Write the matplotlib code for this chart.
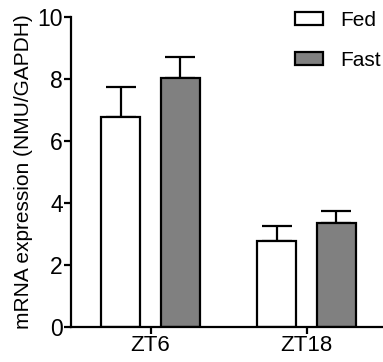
import matplotlib.pyplot as plt
import numpy as np

plt.rcParams['font.family'] = ['Liberation Sans', 'DejaVu Sans']

# values
groups = ['ZT6', 'ZT18']
fed_mean = [6.78, 2.76]
fed_err = [0.97, 0.50]
fast_mean = [8.02, 3.37]
fast_err = [0.70, 0.38]
y_ticks = [0, 2, 4, 6, 8, 10]

fig = plt.figure(figsize=(3.83, 3.62), dpi=100)
ax = fig.add_axes([71 / 383, 35 / 362, 312 / 383, 310 / 362])

x = np.arange(len(groups))
w = 0.25
off = 0.19
lw = 1.6

ax.bar(x - off, fed_mean, w, color='white', edgecolor='black', linewidth=lw,
       label='Fed', zorder=2)
ax.bar(x + off, fast_mean, w, color='#808080', edgecolor='black', linewidth=lw,
       label='Fast', zorder=2)
ax.errorbar(x - off, fed_mean, yerr=[np.zeros(2), fed_err], fmt='none',
            ecolor='black', elinewidth=lw, capsize=11, capthick=lw, zorder=1)
ax.errorbar(x + off, fast_mean, yerr=[np.zeros(2), fast_err], fmt='none',
            ecolor='black', elinewidth=lw, capsize=11, capthick=lw, zorder=1)

ax.set_xlim(-0.51, 1.49)
ax.set_ylim(0, 10)
ax.set_yticks(y_ticks)
ax.set_xticks(x)
ax.set_xticklabels(groups)
ax.set_ylabel('mRNA expression (NMU/GAPDH)', fontsize=15, labelpad=3)
ax.tick_params(axis='y', labelsize=16.5, width=lw, length=5, pad=1)
ax.tick_params(axis='x', labelsize=16, width=lw, length=5, pad=1)
for s in ['top', 'right']:
    ax.spines[s].set_visible(False)
for s in ['left', 'bottom']:
    ax.spines[s].set_linewidth(lw)

ax.legend(loc='upper left', bbox_to_anchor=(295 / 383, 1 - 11 / 362),
          bbox_transform=fig.transFigure, frameon=False, borderpad=0,
          borderaxespad=0, fontsize=15, handlelength=1.35, handleheight=0.6,
          labelspacing=1.0, handletextpad=0.8)

fig.savefig('out.png', dpi=100)
